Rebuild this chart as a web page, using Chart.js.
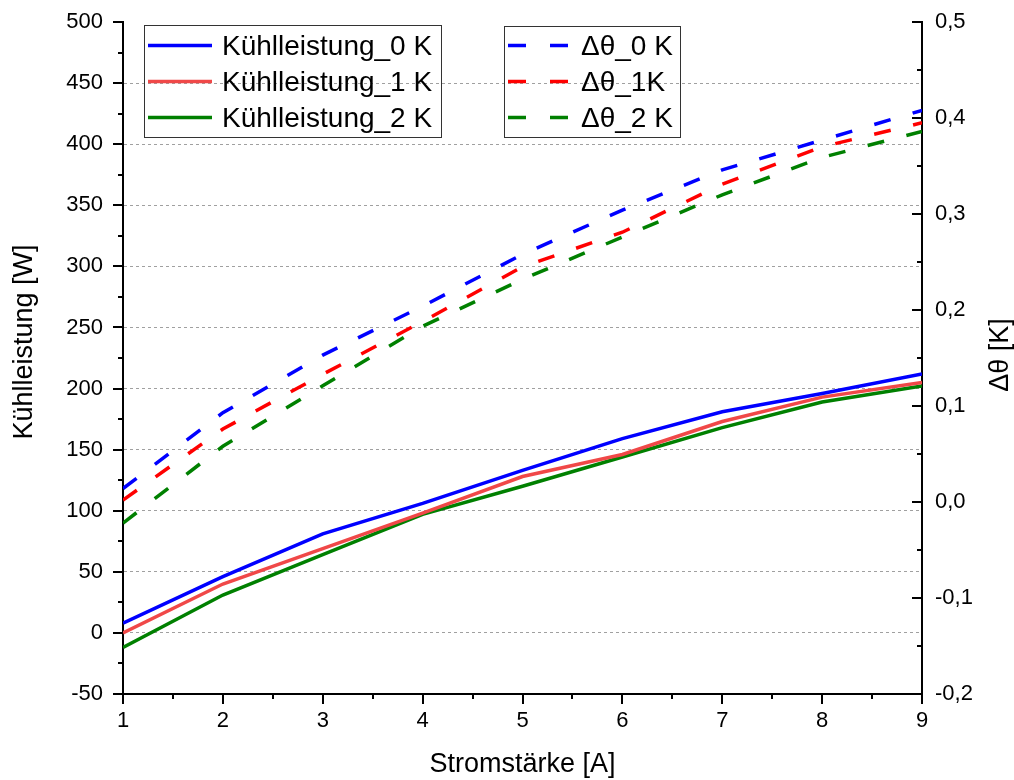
<!DOCTYPE html>
<html>
<head>
<meta charset="utf-8">
<title>Kühlleistung und Δθ</title>
<script src="https://cdn.jsdelivr.net/npm/chart.js@4.4.1/dist/chart.umd.min.js"></script>
<style>
    html, body { margin: 0; padding: 0; background: #fff; }
    #wrap { width: 1014px; height: 780px; }
</style>
</head>
<body>
<div id="wrap"><canvas id="chart" width="1014" height="780"></canvas></div>
<script>
// Stromstärke [A]
const current = [1, 2, 3, 4, 5, 6, 7, 8, 9];

// Kühlleistung [W], left axis
const kuehl0 = [8, 46, 81, 106, 133, 159, 181, 196, 212];
const kuehl1 = [0, 40, 69, 98, 128, 146, 173, 193, 205];
const kuehl2 = [-12, 31, 64, 97, 120, 144, 168, 189, 202];

// Δθ [K], right axis
const delta0 = [0.014, 0.093, 0.153, 0.204, 0.258, 0.304, 0.346, 0.377, 0.408];
const delta1 = [0.002, 0.076, 0.133, 0.188, 0.245, 0.281, 0.331, 0.370, 0.395];
const delta2 = [-0.022, 0.058, 0.121, 0.183, 0.232, 0.276, 0.320, 0.359, 0.386];

// tick values
const xTicks = [1, 2, 3, 4, 5, 6, 7, 8, 9];
const leftTicks = [-50, 0, 50, 100, 150, 200, 250, 300, 350, 400, 450, 500];
const rightTicks = [-0.2, -0.1, 0.0, 0.1, 0.2, 0.3, 0.4, 0.5];

const FONT = 'Arial, "Liberation Sans", sans-serif';

const toPoints = (ys) => ys.map((v, i) => ({ x: current[i], y: v }));

function solid(label, values, color) {
    return {
        label: label,
        data: toPoints(values),
        yAxisID: 'y',
        borderColor: color,
        borderWidth: 3.5,
        pointRadius: 0,
        tension: 0,
        fill: false,
    };
}

function dashed(label, values, color) {
    return {
        label: label,
        data: toPoints(values),
        yAxisID: 'y2',
        borderColor: color,
        borderWidth: 3.5,
        borderDash: [17, 23],
        borderCapStyle: 'butt',
        pointRadius: 0,
        tension: 0,
        fill: false,
    };
}

// minor + major tick marks; left/bottom point outward, right points inward
const tickMarks = {
    id: 'tickMarks',
    afterDraw(chart) {
        const { ctx } = chart;
        const { x, y, y2 } = chart.scales;
        ctx.save();
        ctx.strokeStyle = '#000';
        ctx.lineWidth = 2;
        ctx.beginPath();
        xTicks.forEach((v, i) => {
            const p = Math.round(x.getPixelForValue(v));
            ctx.moveTo(p, x.top); ctx.lineTo(p, x.top + 10);
            if (i < xTicks.length - 1) {
                const m = Math.round(x.getPixelForValue((v + xTicks[i + 1]) / 2));
                ctx.moveTo(m, x.top); ctx.lineTo(m, x.top + 5);
            }
        });
        leftTicks.forEach((v, i) => {
            const p = Math.round(y.getPixelForValue(v));
            ctx.moveTo(y.right, p); ctx.lineTo(y.right - 10, p);
            if (i < leftTicks.length - 1) {
                const m = Math.round(y.getPixelForValue((v + leftTicks[i + 1]) / 2));
                ctx.moveTo(y.right, m); ctx.lineTo(y.right - 5, m);
            }
        });
        rightTicks.forEach((v, i) => {
            const p = Math.round(y2.getPixelForValue(v));
            ctx.moveTo(y2.left, p); ctx.lineTo(y2.left - 10, p);
            if (i < rightTicks.length - 1) {
                const m = Math.round(y2.getPixelForValue((v + rightTicks[i + 1]) / 2));
                ctx.moveTo(y2.left, m); ctx.lineTo(y2.left - 5, m);
            }
        });
        ctx.stroke();
        ctx.restore();
    }
};

// axis titles
const axisTitles = {
    id: 'axisTitles',
    afterDraw(chart) {
        const { ctx, chartArea } = chart;
        ctx.save();
        ctx.fillStyle = '#000';
        ctx.font = '27px ' + FONT;
        ctx.textAlign = 'center';
        ctx.textBaseline = 'alphabetic';
        ctx.fillText('Stromstärke [A]', (chartArea.left + chartArea.right) / 2, 772);

        ctx.save();
        ctx.translate(32, 342);
        ctx.rotate(-Math.PI / 2);
        ctx.fillText('Kühlleistung [W]', 0, 0);
        ctx.restore();

        ctx.save();
        ctx.translate(1008, 355);
        ctx.rotate(-Math.PI / 2);
        ctx.fillText('Δθ [K]', 0, 0);
        ctx.restore();
        ctx.restore();
    }
};

// two framed legend boxes: solid series and dashed series
const boxLegend = {
    id: 'boxLegend',
    afterDraw(chart) {
        const { ctx } = chart;
        const sets = chart.data.datasets;
        const boxes = [
            { x: 144, y: 25, w: 297, h: 112, lineX: 148, lineW: 64, textX: 222, items: [0, 1, 2] },
            { x: 504, y: 26, w: 176, h: 111, lineX: 508, lineW: 60, textX: 581, items: [3, 4, 5] },
        ];
        ctx.save();
        boxes.forEach(b => {
            ctx.lineWidth = 1;
            ctx.strokeStyle = '#333';
            ctx.setLineDash([]);
            ctx.strokeRect(b.x + 0.5, b.y + 0.5, b.w, b.h);
            b.items.forEach((idx, row) => {
                const ds = sets[idx];
                const baseY = 55 + row * 36;
                const lineY = baseY - 9.5;
                ctx.strokeStyle = ds.borderColor;
                ctx.lineWidth = 3.5;
                ctx.lineCap = 'butt';
                ctx.setLineDash(ds.borderDash ? [18, 24] : []);
                ctx.beginPath();
                ctx.moveTo(b.lineX, lineY);
                ctx.lineTo(b.lineX + b.lineW, lineY);
                ctx.stroke();
                ctx.setLineDash([]);
                ctx.fillStyle = '#000';
                ctx.font = '28px ' + FONT;
                ctx.textAlign = 'left';
                ctx.textBaseline = 'alphabetic';
                ctx.fillText(ds.label, b.textX, baseY);
            });
        });
        ctx.restore();
    }
};

const tickFont = { family: FONT, size: 22 };

// fixed axis sizes so the plot area sits at 123..922 x 22..694
function fixWidth(w) {
    return s => { s.width = w; s.paddingTop = 0; s.paddingBottom = 0; };
}

new Chart(document.getElementById('chart').getContext('2d'), {
    type: 'line',
    data: {
        datasets: [
            solid('Kühlleistung_0 K', kuehl0, '#0000ff'),
            solid('Kühlleistung_1 K', kuehl1, '#f04848'),
            solid('Kühlleistung_2 K', kuehl2, '#008000'),
            dashed('Δθ_0 K', delta0, '#0000ff'),
            dashed('Δθ_1K', delta1, '#ff0000'),
            dashed('Δθ_2 K', delta2, '#008000'),
        ],
    },
    options: {
        responsive: false,
        animation: false,
        layout: { padding: { top: 22, left: 0, right: 0, bottom: 0 } },
        plugins: {
            legend: { display: false },
            tooltip: { enabled: false },
        },
        scales: {
            x: {
                type: 'linear',
                min: 1,
                max: 9,
                afterBuildTicks: s => { s.ticks = xTicks.map(v => ({ value: v })); },
                afterFit: s => { s.height = 86; s.paddingLeft = 0; s.paddingRight = 0; },
                grid: { drawOnChartArea: false, drawTicks: false },
                border: { display: true, color: '#000', width: 2 },
                ticks: { color: '#000', font: tickFont, padding: 14, maxRotation: 0 },
            },
            y: {
                type: 'linear',
                position: 'left',
                min: -50,
                max: 500,
                afterBuildTicks: s => { s.ticks = leftTicks.map(v => ({ value: v })); },
                afterFit: fixWidth(123),
                grid: {
                    drawTicks: false,
                    lineWidth: 1,
                    color: c => (c.tick && (c.tick.value === -50 || c.tick.value === 500)) ? 'rgba(0,0,0,0)' : '#a0a0a0',
                },
                border: { display: true, color: '#000', width: 2, dash: [3, 3] },
                ticks: { color: '#000', font: tickFont, padding: 20 },
            },
            y2: {
                type: 'linear',
                position: 'right',
                min: -0.2,
                max: 0.5,
                afterBuildTicks: s => { s.ticks = rightTicks.map(v => ({ value: v })); },
                afterFit: fixWidth(92),
                grid: { drawOnChartArea: false, drawTicks: false },
                border: { display: true, color: '#000', width: 2 },
                ticks: {
                    color: '#000',
                    font: tickFont,
                    padding: 13,
                    callback: v => v.toFixed(1).replace('.', ','),
                },
            },
        },
    },
    plugins: [tickMarks, axisTitles, boxLegend],
});
</script>
</body>
</html>
